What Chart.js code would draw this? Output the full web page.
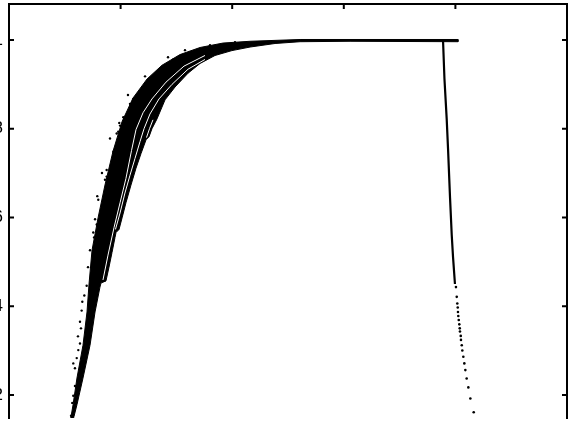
<!DOCTYPE html>
<html>
<head>
<meta charset="utf-8">
<script src="https://cdn.jsdelivr.net/npm/chart.js@4/dist/chart.umd.min.js"></script>
<style>
html,body{margin:0;padding:0;background:#fff;}
#wrap{position:absolute;left:0;top:0;width:587px;height:422px;overflow:hidden;background:#fff;}
#c{position:absolute;left:-45px;top:0;}
</style>
</head>
<body>
<div id="wrap"><canvas id="c" width="632" height="422" style="width:632px;height:422px"></canvas></div>
<script>
// ---- data ----
const xTickValues = [1, 2, 3, 4];
const yTickValues = [0.2, 0.4, 0.6, 0.8, 1];
const yTickLabels = ['0.2', '0.4', '0.6', '0.8', '1'];

// dense band of points: its upper/left boundary, bottom to top-right
const bandUpperEdge = [
  [0.547,0.140],[0.556,0.151],[0.574,0.178],[0.609,0.238],[0.663,0.312],[0.699,0.387],[0.717,0.450],
  [0.744,0.526],[0.798,0.599],[0.860,0.673],[0.932,0.749],[1.013,0.816],[1.111,0.869],
  [1.237,0.912],[1.371,0.943],[1.532,0.967],[1.712,0.983],[1.918,0.993],[2.160,0.997],
  [2.608,1.001],[4.023,1.001]
];
// its lower/right boundary, from the right end back to the bottom
const bandLowerEdge = [
  [4.023,0.996],[3.056,0.997],[2.608,0.996],[2.384,0.992],[2.160,0.984],[1.998,0.976],
  [1.846,0.965],[1.712,0.947],[1.604,0.925],[1.488,0.894],[1.398,0.865],[1.326,0.822],
  [1.281,0.800],[1.255,0.782],[1.228,0.775],[1.183,0.744],[1.138,0.711],[1.093,0.673],
  [1.048,0.633],[1.013,0.599],[0.986,0.573],[0.959,0.566],[0.950,0.555],[0.923,0.521],
  [0.896,0.488],[0.869,0.457],[0.824,0.452],[0.815,0.443],[0.771,0.387],[0.726,0.312],
  [0.663,0.238],[0.609,0.178],[0.582,0.151],[0.570,0.140]
];
// thin white gaps between the separate curves inside the band
const gapOne = [
  [0.842,0.459],[0.887,0.515],[0.941,0.577],[0.995,0.633],[1.048,0.688],[1.098,0.751],
  [1.138,0.798],[1.201,0.836],[1.281,0.867],[1.407,0.905],[1.568,0.941],[1.756,0.965]
];
const gapTwo = [
  [0.954,0.573],[0.995,0.610],[1.039,0.655],[1.084,0.695],[1.129,0.733],[1.174,0.771],
  [1.210,0.800],[1.263,0.833],[1.344,0.867],[1.461,0.900],[1.604,0.934],[1.756,0.956]
];
const gapThree = [
  [1.232,0.780],[1.259,0.800],[1.290,0.820]
];
// steep descent on the right
const dropLine = [
  [3.889,1.000],[3.902,0.912],[3.922,0.822],[3.934,0.755],[3.952,0.644],
  [3.967,0.561],[3.979,0.510],[3.996,0.450]
];
const dropDots = [
  [4.005,0.443],[4.012,0.421],[4.017,0.406],[4.021,0.397],[4.023,0.387],[4.026,0.378],
  [4.030,0.369],[4.035,0.359],[4.039,0.350],[4.041,0.343],[4.048,0.333],[4.050,0.324],
  [4.057,0.312],[4.062,0.300],[4.071,0.286],[4.080,0.271],[4.089,0.256],[4.101,0.237],
  [4.116,0.217],[4.134,0.192],[4.164,0.161]
];
// loose points scattered along the band's left side
const strayDots = [
  [0.556,0.153],[0.567,0.182],[0.576,0.198],[0.591,0.260],[0.576,0.271],[0.607,0.283],
  [0.621,0.301],[0.636,0.316],[0.645,0.350],[0.636,0.365],[0.651,0.390],[0.657,0.410],
  [0.675,0.424],[0.696,0.446],[0.726,0.526],[0.755,0.566],[0.786,0.584],[0.771,0.596],
  [0.791,0.648],[0.800,0.640],[0.875,0.692],[0.860,0.685],[0.875,0.707],[0.935,0.748],
  [0.965,0.789],[0.979,0.793],[0.995,0.807],[0.988,0.813],[1.024,0.826],[1.084,0.856],
  [1.100,0.852],[1.114,0.867],[1.159,0.871],[1.189,0.882],[1.263,0.904],[1.308,0.919],
  [1.377,0.938],[1.472,0.956],[1.622,0.971],[0.854,0.457],
  [1.577,0.977],[1.801,0.988],[2.025,0.995],[1.425,0.961],[1.219,0.918],[1.066,0.876],
  [0.905,0.778],[0.833,0.700],[0.762,0.555],[0.708,0.488],[0.618,0.332],[0.591,0.220]
];

// ---- chart ----
const bandPolygon = bandUpperEdge.concat(bandLowerEdge, [bandUpperEdge[0]])
  .map(p => ({x: p[0], y: p[1]}));
const toPts = a => a.map(p => ({x: p[0], y: p[1]}));

const tickMarks = {
  id: 'tickMarks',
  afterDraw(chart) {
    const {ctx, chartArea: a, scales} = chart;
    const x = scales.x, y = scales.y;
    ctx.save();
    ctx.strokeStyle = '#000';
    ctx.lineWidth = 2;
    ctx.beginPath();
    y.ticks.forEach(t => {
      const py = y.getPixelForValue(t.value);
      ctx.moveTo(a.left, py); ctx.lineTo(a.left + 5, py);
      ctx.moveTo(a.right - 5, py); ctx.lineTo(a.right, py);
    });
    x.ticks.forEach(t => {
      const px = x.getPixelForValue(t.value);
      ctx.moveTo(px, a.top); ctx.lineTo(px, a.top + 5);
    });
    ctx.stroke();
    ctx.restore();
  }
};

const lineDs = (data, color, width, order) => ({
  data: toPts(data), showLine: true, borderColor: color, borderWidth: width,
  pointRadius: 0, fill: false, tension: 0, order: order
});
const dotDs = (data, r, order) => ({
  data: toPts(data), showLine: false, pointRadius: r, pointBorderWidth: 0,
  backgroundColor: '#000', borderColor: '#000', order: order
});
const noPad = s => { s.paddingTop = 0; s.paddingBottom = 0; s.paddingLeft = 0; s.paddingRight = 0; };

new Chart(document.getElementById('c'), {
  type: 'scatter',
  data: {
    datasets: [
      { data: bandPolygon, showLine: true, fill: 'shape', backgroundColor: '#000',
        borderColor: '#000', borderWidth: 1, pointRadius: 0, tension: 0, order: 10 },
      lineDs(gapOne, '#fff', 1, 8),
      lineDs(gapTwo, '#fff', 1, 8),
      lineDs(gapThree, '#fff', 1, 8),
      dotDs(strayDots, 1.2, 6),
      lineDs(dropLine, '#000', 2.2, 4),
      dotDs(dropDots, 1.3, 2)
    ]
  },
  options: {
    responsive: false,
    animation: false,
    devicePixelRatio: 1,
    layout: { padding: 0 },
    plugins: { legend: { display: false }, tooltip: { enabled: false } },
    scales: {
      x: {
        type: 'linear', position: 'top', min: 0, max: 5,
        afterBuildTicks: s => { s.ticks = xTickValues.map(v => ({value: v})); },
        afterFit: s => { s.height = 4; noPad(s); },
        ticks: { display: false },
        grid: { display: false, drawTicks: false },
        border: { display: true, color: '#000', width: 2 }
      },
      y: {
        type: 'linear', position: 'left', min: 0.148, max: 1.081,
        afterBuildTicks: s => { s.ticks = yTickValues.map(v => ({value: v})); },
        afterFit: s => { s.width = 54; noPad(s); },
        ticks: {
          callback: (v, i) => yTickLabels[i],
          color: '#000', padding: 6,
          font: { family: 'Liberation Sans', size: 17 }
        },
        grid: { display: false, drawTicks: false },
        border: { display: true, color: '#000', width: 2 }
      },
      y2: {
        type: 'linear', position: 'right', min: 0.148, max: 1.081,
        afterFit: s => { s.width = 20; noPad(s); },
        ticks: { display: false },
        grid: { display: false, drawTicks: false },
        border: { display: true, color: '#000', width: 2 }
      }
    }
  },
  plugins: [tickMarks]
});
</script>
</body>
</html>
